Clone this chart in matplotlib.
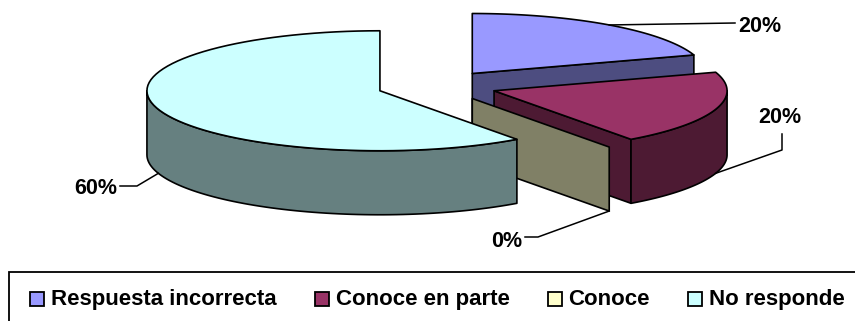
import numpy as np
import matplotlib
matplotlib.use('Agg')
import matplotlib.pyplot as plt
from matplotlib.patches import Polygon, Rectangle

plt.rcParams['font.family'] = ['Liberation Sans', 'DejaVu Sans']

categories = ['Respuesta incorrecta', 'Conoce en parte', 'Conoce', 'No responde']
values = [20, 20, 0, 60]
pct_labels = ['20%', '20%', '0%', '60%']
top_colors = ['#9999FF', '#993366', '#FFFFCC', '#CCFFFF']
side_colors = ['#4D4D80', '#4D1A33', '#808066', '#668080']

# label layout (text anchor x, baseline y, ha) and leader elbow points
label_pos = [(738, 32, 'left'), (780, 123, 'center'), (522, 247, 'right'), (117, 194, 'right')]
leader_mid = [[(735, 23)], [(782, 150), (782, 134)], [(538, 237), (525, 237)], [(137, 186), (120, 186)]]

W, H = 855, 321
fig = plt.figure(figsize=(W / 100, H / 100), dpi=100)
ax = fig.add_axes([0, 0, 1, 1])
ax.set_xlim(0, W)
ax.set_ylim(H, 0)
ax.axis('off')

cx, cy = 437, 86
rx, ry = 233, 60
depth = 64
explode = 60
k = ry / rx
EC = 'black'
LW = 1.2


def arc(ox, oy, a1, a2, n=80, dy=0.0):
    a = np.radians(np.linspace(a1, a2, n))
    return np.column_stack([ox + rx * np.cos(a), oy - ry * np.sin(a) + dy])


total = sum(values)
start = 90.0
slices = []
for v in values:
    sweep = 360.0 * v / total
    slices.append((start - sweep, start))
    start -= sweep

for i, (t1, t2) in enumerate(slices):
    mid = np.radians((t1 + t2) / 2)
    ox = cx + explode * np.cos(mid)
    oy = cy - explode * k * np.sin(mid)
    # walls
    for ang, vis in ((t1, np.cos(np.radians(t1)) > 1e-9), (t2, np.cos(np.radians(t2)) < -1e-9)):
        if vis:
            px, py = ox + rx * np.cos(np.radians(ang)), oy - ry * np.sin(np.radians(ang))
            ax.add_patch(Polygon([(ox, oy), (px, py), (px, py + depth), (ox, oy + depth)],
                                 closed=True, fc=side_colors[i], ec=EC, lw=LW, joinstyle='round'))
    # outer curved side (front half only)
    for n in range(-2, 2):
        lo, hi = max(t1, -180 + 360 * n), min(t2, 360 * n)
        if hi - lo > 1e-6:
            top = arc(ox, oy, lo, hi)
            bot = arc(ox, oy, hi, lo, dy=depth)
            ax.add_patch(Polygon(np.vstack([top, bot]), closed=True, fc=side_colors[i],
                                 ec=EC, lw=LW, joinstyle='round'))
    # top face
    if t2 - t1 > 1e-6:
        pts = np.vstack([[(ox, oy)], arc(ox, oy, t1, t2)])
        ax.add_patch(Polygon(pts, closed=True, fc=top_colors[i], ec=EC, lw=LW, joinstyle='round'))
    # leader + label
    ax_ = ox + rx * np.cos(mid)
    ay_ = oy - ry * np.sin(mid) + (depth if np.sin(mid) < 0 else 0)
    path = [(ax_, ay_)] + leader_mid[i]
    xs, ys = zip(*path)
    ax.plot(xs, ys, color='black', lw=1.1)
    lx, ly, ha = label_pos[i]
    ax.text(lx, ly, pct_labels[i], ha=ha, va='baseline', fontsize=15.5, fontweight='bold')

# legend box (extends past right/bottom edge)
ax.add_patch(Rectangle((9, 272), 900, 100, fc='white', ec='black', lw=1.3, clip_on=True))
renderer = fig.canvas.get_renderer()
x = 30
for i, name in enumerate(categories):
    ax.add_patch(Rectangle((x, 292), 14, 14, fc=top_colors[i], ec='black', lw=1.3))
    t = ax.text(x + 21, 305, name, ha='left', va='baseline', fontsize=16, fontweight='bold')
    bb = t.get_window_extent(renderer=renderer)
    x = bb.x1 + 38

fig.savefig('out.png', dpi=100)
